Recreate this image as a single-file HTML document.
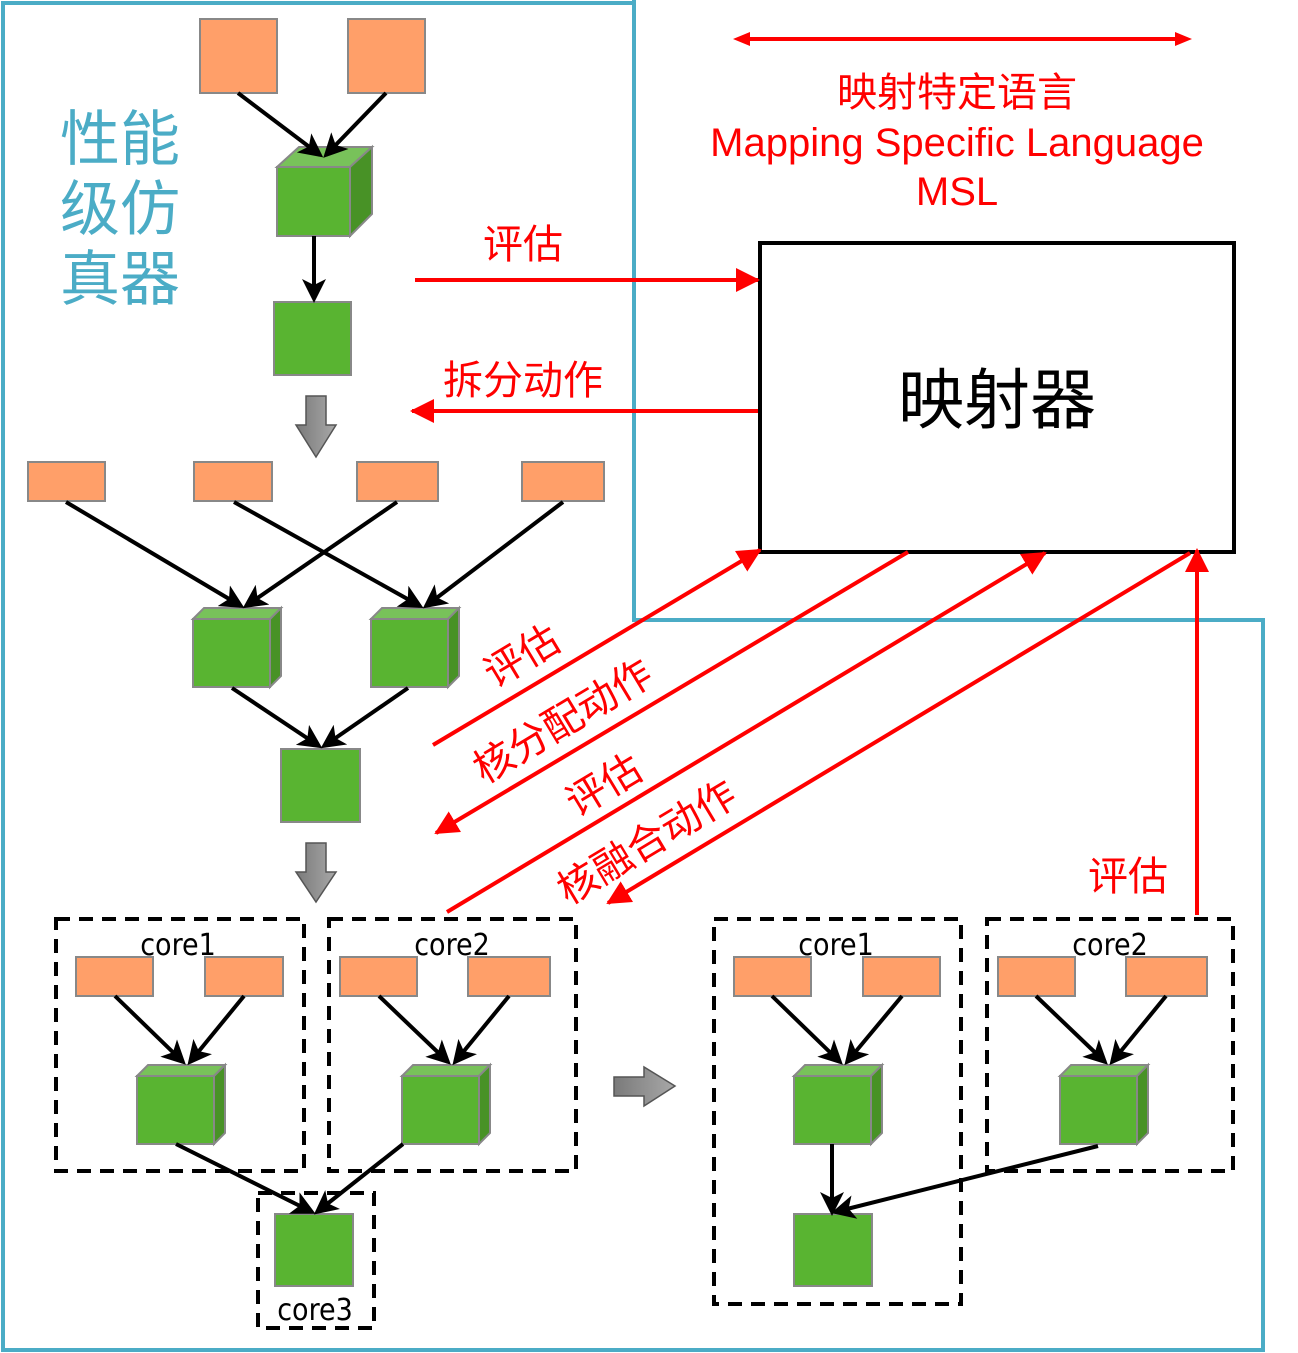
<!DOCTYPE html>
<html><head><meta charset="utf-8"><style>html,body{margin:0;padding:0;background:#fff}svg{display:block}</style></head><body>
<svg width="1298" height="1353" viewBox="0 0 1298 1353" xmlns="http://www.w3.org/2000/svg" font-family="'Liberation Sans','Noto Sans CJK SC',sans-serif">
<defs>
<marker id="ak" markerWidth="6" markerHeight="6" refX="5" refY="3" orient="auto" markerUnits="strokeWidth"><path d="M0,0 L6,3 L0,6 L1.5,3Z" fill="#000"/></marker>
<marker id="ar" markerWidth="6" markerHeight="6" refX="5.5" refY="3" orient="auto" markerUnits="strokeWidth"><path d="M0,0 L6,3 L0,6Z" fill="#f00"/></marker>
<linearGradient id="gg" x1="0" x2="1"><stop offset="0" stop-color="#7a7a7a"/><stop offset="1" stop-color="#a8a8a8"/></linearGradient>
<g id="cube"><path d="M0,11 L11,0 L88,0 L77,11Z" fill="#78c25a" stroke="#888" stroke-width="2"/><path d="M77,11 L88,0 L88,68 L77,79Z" fill="#489226" stroke="#888" stroke-width="2"/><rect x="0" y="11" width="77" height="68" fill="#59b431" stroke="#888" stroke-width="2"/></g>
</defs>
<path d="M3,3 L634,3 L634,620 L1263,620 L1263,1350 L3,1350 Z" fill="none" stroke="#4bacc6" stroke-width="4"/>
<text x="120" y="160" font-size="60" fill="#4bacc6" text-anchor="middle">性能</text>
<text x="120" y="230" font-size="60" fill="#4bacc6" text-anchor="middle">级仿</text>
<text x="120" y="300" font-size="60" fill="#4bacc6" text-anchor="middle">真器</text>
<g fill="#ff9f69" stroke="#888" stroke-width="2">
<rect x="200" y="19" width="77" height="74"/><rect x="348" y="19" width="77" height="74"/>
<rect x="28" y="462" width="77" height="39"/><rect x="194" y="462" width="78" height="39"/><rect x="357" y="462" width="81" height="39"/><rect x="522" y="462" width="82" height="39"/>
<rect x="76" y="957" width="77" height="39"/><rect x="205" y="957" width="78" height="39"/><rect x="340" y="957" width="77" height="39"/><rect x="468" y="957" width="82" height="39"/>
<rect x="734" y="957" width="77" height="39"/><rect x="863" y="957" width="77" height="39"/><rect x="998" y="957" width="77" height="39"/><rect x="1126" y="957" width="81" height="39"/>
</g>
<g stroke="#888" stroke-width="2">
<path d="M277,167 L299,147 L372,147 L350,167Z" fill="#78c25a"/>
<path d="M350,167 L372,147 L372,214 L350,236Z" fill="#489226"/>
<rect x="277" y="167" width="73" height="69" fill="#59b431"/>
</g>
<use href="#cube" transform="translate(193,608)"/>
<use href="#cube" transform="translate(371,608)"/>
<use href="#cube" transform="translate(137,1065)"/>
<use href="#cube" transform="translate(402,1065)"/>
<use href="#cube" transform="translate(794,1065)"/>
<use href="#cube" transform="translate(1060,1065)"/>
<g fill="#59b431" stroke="#888" stroke-width="2">
<rect x="274" y="302" width="77" height="73"/><rect x="281" y="749" width="79" height="73"/><rect x="275" y="1214" width="78" height="72"/><rect x="794" y="1214" width="78" height="72"/>
</g>
<g stroke="#000" stroke-width="4" fill="none" marker-end="url(#ak)">
<line x1="238" y1="93" x2="320" y2="155"/><line x1="386" y1="93" x2="326" y2="155"/><line x1="314" y1="236" x2="314" y2="299"/>
<line x1="66" y1="502" x2="241" y2="606"/><line x1="234" y1="502" x2="420" y2="606"/><line x1="397" y1="502" x2="246" y2="606"/><line x1="563" y1="502" x2="426" y2="606"/>
<line x1="232" y1="688" x2="319" y2="746"/><line x1="408" y1="688" x2="324" y2="746"/>
<line x1="115" y1="996" x2="183" y2="1062"/><line x1="244" y1="996" x2="190" y2="1062"/><line x1="379" y1="996" x2="448" y2="1062"/><line x1="509" y1="996" x2="455" y2="1062"/>
<line x1="176" y1="1144" x2="312" y2="1212"/><line x1="403" y1="1144" x2="317" y2="1212"/>
<line x1="772" y1="996" x2="840" y2="1062"/><line x1="902" y1="996" x2="847" y2="1062"/><line x1="1036" y1="996" x2="1105" y2="1062"/><line x1="1166" y1="996" x2="1112" y2="1062"/>
<line x1="832" y1="1144" x2="832" y2="1212"/><line x1="1098" y1="1146" x2="835" y2="1212"/>
</g>
<g fill="url(#gg)" stroke="#555" stroke-width="1.5">
<path d="M306,396 L326,396 L326,425 L336,425 L316,457 L296,425 L306,425Z"/>
<path d="M306,843 L326,843 L326,872 L336,872 L316,902 L296,872 L306,872Z"/>
<path d="M614,1077 L644,1077 L644,1067 L675,1086 L644,1106 L644,1096 L614,1096Z"/>
</g>
<g fill="none" stroke="#000" stroke-width="4" stroke-dasharray="14,9">
<rect x="56" y="919" width="248" height="252"/><rect x="329" y="919" width="247" height="252"/><rect x="258" y="1193" width="116" height="135"/>
<rect x="714" y="919" width="247" height="385"/><rect x="987" y="919" width="246" height="252"/>
</g>
<g font-size="30" fill="#000" text-anchor="middle" font-family="'DejaVu Sans Condensed','Liberation Sans Narrow',sans-serif">
<text x="178" y="955">core1</text><text x="452" y="955">core2</text><text x="315" y="1320">core3</text>
<text x="836" y="955">core1</text><text x="1110" y="955">core2</text>
</g>
<rect x="760" y="243" width="474" height="309" fill="#fff" stroke="#000" stroke-width="4"/>
<text x="997" y="423" font-size="66" text-anchor="middle" fill="#000">映射器</text>
<line x1="634" y1="0" x2="634" y2="620" stroke="#4bacc6" stroke-width="4"/>
<line x1="634" y1="620" x2="1263" y2="620" stroke="#4bacc6" stroke-width="4"/>
<g stroke="#f00" stroke-width="4" fill="none">
<line x1="745" y1="39" x2="1180" y2="39"/>
<line x1="415" y1="280" x2="758" y2="280" marker-end="url(#ar)"/>
<line x1="758" y1="411" x2="412" y2="411" marker-end="url(#ar)"/>
<line x1="433" y1="745" x2="760" y2="550" marker-end="url(#ar)"/>
<line x1="908" y1="552" x2="436" y2="833" marker-end="url(#ar)"/>
<line x1="447" y1="912" x2="1045" y2="553" marker-end="url(#ar)"/>
<line x1="1190" y1="553" x2="608" y2="903" marker-end="url(#ar)"/>
<line x1="1197" y1="915" x2="1197" y2="550" marker-end="url(#ar)"/>
</g>
<path d="M733,39 L750,32 L750,46Z M1192,39 L1175,32 L1175,46Z" fill="#f00"/>
<g fill="#f00" font-size="40" text-anchor="middle">
<text x="957" y="106">映射特定语言</text>
<text x="957" y="156" font-size="40">Mapping Specific Language</text>
<text x="957" y="205" font-size="40">MSL</text>
<text x="523" y="258">评估</text>
<text x="523" y="394">拆分动作</text>
<text x="1128" y="890">评估</text>
<text transform="translate(529,668) rotate(-31)">评估</text>
<text transform="translate(570,733) rotate(-31)">核分配动作</text>
<text transform="translate(611,797) rotate(-31)">评估</text>
<text transform="translate(654,854) rotate(-31)">核融合动作</text>
</g>
</svg>
</body></html>
